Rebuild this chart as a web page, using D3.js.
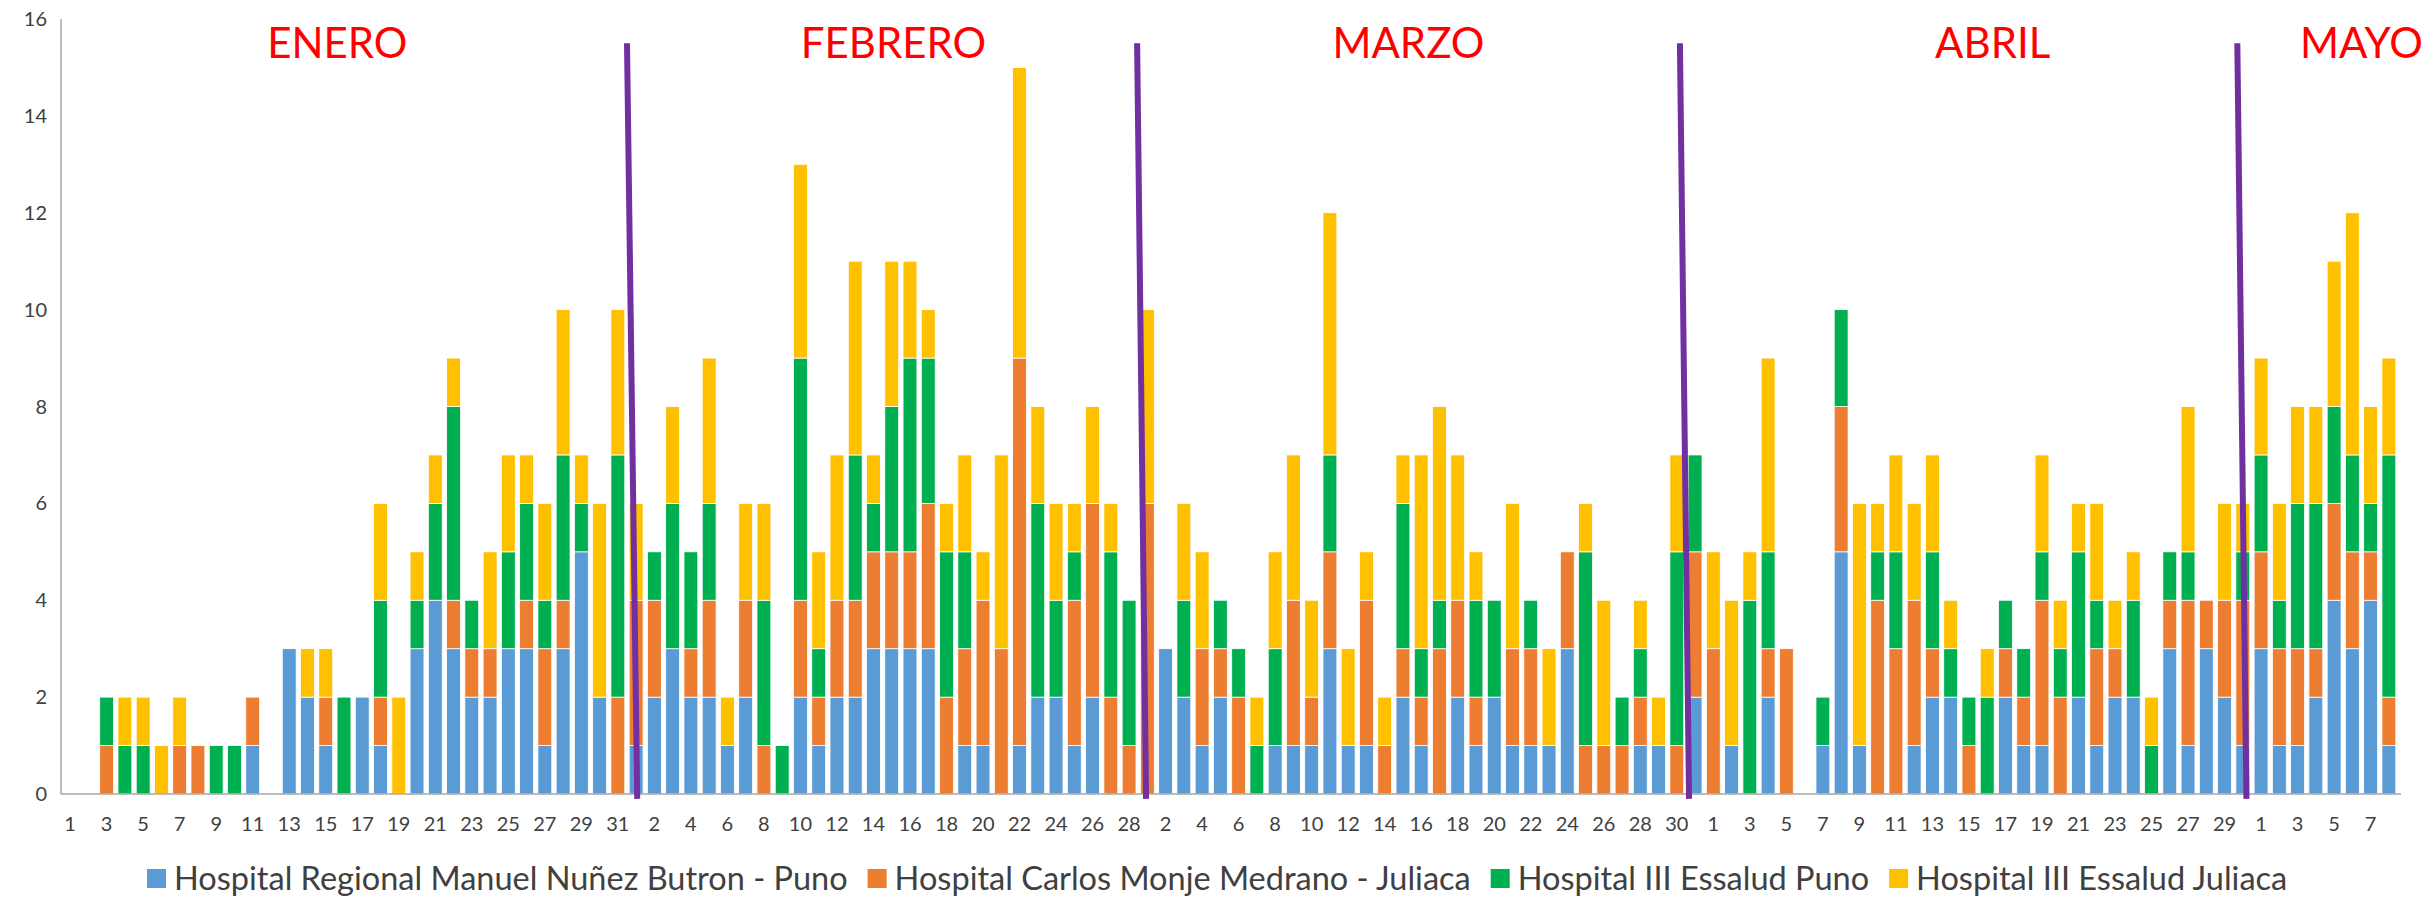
<!DOCTYPE html>
<html>
<head>
<meta charset="utf-8">
<script src="https://cdn.jsdelivr.net/npm/d3@7"></script>
<style>
  html, body { margin: 0; padding: 0; background: #fff; }
  svg { display: block; }
</style>
</head>
<body>
<svg id="chart" width="2432" height="898"></svg>
<script>
// ---------- DATA ----------
const monthNames = ["ENERO", "FEBRERO", "MARZO", "ABRIL", "MAYO"];
const monthDays = [31, 28, 31, 30, 8];
// label positions of month names (in day-index units) and separator lines
const monthLabelPos = [15.13, 45.6, 73.8, 105.8, 126.0];
const separatorTop = [31.0, 58.94, 88.67, 119.2];
const separatorBottom = [31.56, 59.43, 89.17, 119.7];

const seriesNames = [
  "Hospital Regional Manuel Nuñez Butron - Puno",
  "Hospital Carlos Monje Medrano - Juliaca",
  "Hospital III Essalud Puno",
  "Hospital III Essalud Juliaca"
];
const seriesColors = ["#5B9BD5", "#ED7D31", "#00B050", "#FFC000"];

const blue = [
  0,0,0,0,0,0,0,0,0,0,1,0,3,2,1,0,2,1,0,3,4,3,2,2,3,3,1,3,5,2,0,
  1,2,3,2,2,1,2,0,0,2,1,2,2,3,3,3,3,0,1,1,0,1,2,2,1,2,0,0,
  0,3,2,1,2,0,0,1,1,1,3,1,1,0,2,1,0,2,1,2,1,1,1,3,0,0,0,1,1,0,2,
  0,1,0,2,0,0,1,5,1,0,0,1,2,2,0,0,2,1,1,0,2,1,2,2,0,3,1,3,2,1,
  3,1,1,2,4,3,4,1
];
const orange = [
  0,0,1,0,0,0,1,1,0,0,1,0,0,0,1,0,0,1,0,0,0,1,1,1,0,1,2,1,0,0,2,
  3,2,0,1,2,0,2,1,0,2,1,2,2,2,2,2,3,2,2,3,3,8,0,0,3,4,2,1,
  6,0,0,2,1,2,0,0,3,1,2,0,3,1,1,1,3,2,1,0,2,2,0,2,1,1,1,1,0,1,3,
  3,0,0,1,3,0,0,3,0,4,3,3,1,0,1,0,1,1,3,2,0,2,1,0,0,1,3,1,2,3,
  2,2,2,1,2,2,1,1
];
const green = [
  0,0,1,1,1,0,0,0,1,1,0,0,0,0,0,2,0,2,0,1,2,4,1,0,2,2,1,3,1,0,5,
  0,1,3,2,2,0,0,3,1,5,1,0,3,1,3,4,3,3,2,0,0,0,4,2,1,0,3,3,
  0,0,2,0,1,1,1,2,0,0,2,0,0,0,3,1,1,0,2,2,0,1,0,0,4,0,1,1,0,4,2,
  0,0,4,2,0,0,1,2,0,1,2,0,2,1,1,2,1,1,1,1,3,1,0,2,1,1,1,0,0,1,
  2,1,3,3,2,2,1,5
];
const yellow = [
  0,0,0,1,1,1,1,0,0,0,0,0,0,1,1,0,0,2,2,1,1,1,0,2,2,1,2,3,1,4,3,
  2,0,2,0,3,1,2,2,0,4,2,3,4,1,3,2,1,1,2,1,4,6,2,2,1,2,1,0,
  4,0,2,2,0,0,1,2,3,2,5,2,1,1,1,4,4,3,1,0,3,0,2,0,1,3,0,1,1,2,0,
  2,3,1,4,0,0,0,0,5,1,2,2,2,1,0,1,0,0,2,1,1,2,1,1,1,0,3,0,2,1,
  2,2,2,2,3,5,2,2
];
const yTicks = [0, 2, 4, 6, 8, 10, 12, 14, 16];

// ---------- BUILD ----------
const days = monthDays.flatMap((n, m) => d3.range(1, n + 1).map(d => ({ key: m + "-" + d, label: String(d) })));
const keys = ["blue", "orange", "green", "yellow"];
const table = days.map((d, i) => ({
  key: d.key, label: d.label, idx: i,
  blue: blue[i], orange: orange[i], green: green[i], yellow: yellow[i]
}));

const svg = d3.select("#chart");
const x0 = 61, x1 = 2398, yBottom = 794, yTop = 19;

const x = d3.scaleBand().domain(table.map(d => d.key)).range([x0, x1])
  .paddingInner(0.24).paddingOuter(0.12);
const xi = d3.scaleLinear().domain([0, table.length]).range([x0, x1]);
const y = d3.scaleLinear().domain([0, 16]).range([yBottom, yTop]);
const color = d3.scaleOrdinal().domain(keys).range(seriesColors);

const stack = d3.stack().keys(keys)(table);

// bars
svg.append("g").selectAll("g").data(stack).join("g")
  .attr("fill", s => color(s.key))
  .selectAll("rect").data(s => s.filter(d => d[1] - d[0] > 0)).join("rect")
  .attr("x", d => x(d.data.key))
  .attr("width", x.bandwidth())
  .attr("y", d => y(d[1]))
  .attr("height", d => y(d[0]) - y(d[1]))
  .attr("stroke", "#ffffff")
  .attr("stroke-width", 0.8);

// axes
const fontTick = "Lato, 'Open Sans', sans-serif";
svg.append("line").attr("x1", x0).attr("x2", x0).attr("y1", y(0)).attr("y2", y(16))
  .attr("stroke", "#A6A6A6").attr("stroke-width", 1.5);
svg.append("line").attr("x1", x0).attr("x2", x1 + 3).attr("y1", y(0)).attr("y2", y(0))
  .attr("stroke", "#A6A6A6").attr("stroke-width", 1.5);

svg.append("g").selectAll("text").data(yTicks).join("text")
  .attr("x", x0 - 14).attr("y", d => y(d)).attr("dy", "0.35em")
  .attr("text-anchor", "end")
  .attr("font-family", fontTick).attr("font-size", 20).attr("fill", "#404040")
  .text(d => d);

svg.append("g").selectAll("text").data(table.filter(d => d.idx % 2 === 0)).join("text")
  .attr("x", d => x(d.key) + x.bandwidth() / 2).attr("y", y(0) + 30)
  .attr("dy", "0.35em")
  .attr("text-anchor", "middle")
  .attr("font-family", fontTick).attr("font-size", 20).attr("fill", "#404040")
  .text(d => d.label);

// separators
svg.append("g").selectAll("line").data(separatorTop).join("line")
  .attr("x1", (d) => xi(d)).attr("y1", y(15.5))
  .attr("x2", (d, i) => xi(separatorBottom[i])).attr("y2", y(-0.1))
  .attr("stroke", "#7030A0").attr("stroke-width", 6);

// month labels
svg.append("g").selectAll("text").data(monthNames).join("text")
  .attr("x", (d, i) => xi(monthLabelPos[i])).attr("y", y(15.2))
  .attr("text-anchor", "middle")
  .attr("font-family", fontTick).attr("font-size", 42).attr("fill", "#FF0000")
  .text(d => d);

// legend
const lg = svg.append("g");
let lx = 147;
const ly = 879;
seriesNames.forEach((name, i) => {
  lg.append("rect").attr("x", lx).attr("y", ly - 10).attr("width", 19).attr("height", 19)
    .attr("fill", seriesColors[i]);
  const t = lg.append("text").attr("x", lx + 27).attr("y", ly).attr("dy", "0.35em")
    .attr("font-family", fontTick).attr("font-size", 32.5).attr("fill", "#404040")
    .text(name);
  lx += 27 + t.node().getComputedTextLength() + 20;
});
</script>
</body>
</html>
